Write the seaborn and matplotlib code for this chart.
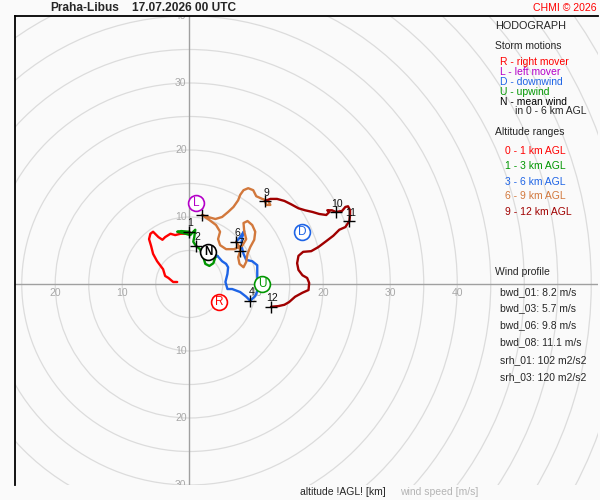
import numpy as np
import pandas as pd
import matplotlib
matplotlib.use('Agg')
import matplotlib.pyplot as plt
import seaborn as sns

# hodograph trace (u, v in m/s) split by altitude range
layers = ['0 - 1 km AGL', '1 - 3 km AGL', '3 - 6 km AGL', '6 - 9 km AGL', '9 - 12 km AGL']
layer_colors = ['#ff0000', '#009600', '#1e64e6', '#d2783c', '#a00000']

u_01 = [-1.8, -2.4, -3.1, -3.6, -3.9, -4.8, -5.4, -5.7, -6.0, -5.8, -5.4, -4.6, -4.0, -3.6, -2.8, -2.1, -1.3, -0.4, 0.0]
v_01 = [0.3, 0.3, 0.9, 1.2, 2.2, 3.4, 4.5, 5.7, 6.7, 7.5, 7.8, 7.0, 6.6, 7.0, 7.5, 7.3, 7.5, 7.5, 7.8]

u_13 = [0.0, -1.2, -1.8, -0.9, 0.15, 0.6, 0.9, 0.75, 0.6, 1.0, 1.6, 2.1, 2.4, 3.0, 3.6, 3.9, 4.2]
v_13 = [7.8, 7.9, 7.8, 7.6, 7.3, 7.8, 8.1, 7.0, 6.3, 5.7, 5.2, 4.0, 3.0, 2.7, 3.1, 4.0, 4.2]

u_36 = [4.2, 4.9, 5.5, 5.8, 5.7, 5.4, 5.7, 6.4, 7.6, 8.5, 9.1, 9.85, 10.3, 10.15, 10.15, 9.4, 8.5, 8.1, 7.8, 7.9, 8.2, 7.6, 7.0]
v_36 = [4.2, 3.4, 3.0, 2.5, 1.5, 0.3, -0.75, -0.75, -1.2, -1.9, -2.5, -1.8, -0.75, 1.0, 2.8, 3.4, 3.6, 4.5, 5.7, 7.0, 7.9, 7.0, 6.3]

u_69 = [7.0, 7.5, 7.6, 7.3, 7.5, 8.1, 8.5, 8.7, 9.1, 9.7, 9.85, 9.4, 8.7, 8.1, 8.2, 8.5, 7.9, 6.7, 5.5, 4.6,
        4.3, 4.6, 4.0, 3.0, 1.9, 2.8, 3.9, 4.9, 5.8, 6.6, 7.3, 7.6, 8.1, 8.8, 9.55, 10.0, 10.9, 11.8, 12.1, 11.5, 11.3]
v_69 = [6.3, 5.5, 4.9, 4.0, 3.0, 2.5, 3.3, 4.5, 5.5, 6.6, 7.8, 8.8, 9.4, 9.1, 7.9, 6.7, 5.7, 5.2, 5.2, 5.8,
        6.7, 7.8, 8.8, 9.55, 10.3, 10.0, 9.7, 10.0, 10.75, 11.5, 12.5, 13.3, 14.0, 14.3, 14.0, 13.1, 12.7, 12.4, 11.8, 11.8, 12.4]

u_912 = [11.3, 12.1, 13.1, 14.2, 15.2, 16.3, 17.3, 18.4, 19.4, 20.45, 20.9, 20.6, 21.3, 21.9, 22.8, 23.3, 23.7, 24.0, 24.0,
         23.9, 23.3, 22.4, 21.5, 20.45, 19.25, 18.2, 17.0, 16.3, 16.1, 16.3, 16.9, 17.6, 17.9, 17.8, 16.9, 15.8, 14.9, 14.2, 13.3, 12.2]
v_912 = [12.4, 12.7, 12.7, 12.4, 11.9, 11.3, 11.0, 10.75, 10.45, 10.3, 10.75, 11.0, 11.0, 10.75, 10.9, 11.5, 11.6, 11.0, 10.3,
         9.4, 8.5, 8.1, 7.2, 6.4, 5.5, 4.9, 4.8, 4.2, 3.1, 2.1, 1.3, 0.9, 0.15, -0.9, -1.3, -1.9, -2.7, -3.1, -3.3, -3.4]

# km height marks
hgt_u = [0.0, 1.0, 9.1, 7.0, 7.6, 1.9, 11.3, 21.9, 23.9, 12.2]
hgt_v = [7.8, 5.7, -2.5, 6.3, 4.9, 10.3, 12.4, 10.7, 9.4, -3.4]
hgt_lbl = ['1', '2', '4', '6', '7', '', '9', '10', '11', '12']

# storm motions
storm_lbl = ['R', 'L', 'D', 'U', 'N']
storm_u = [4.5, 1.0, 16.9, 10.9, 2.8]
storm_v = [-2.7, 12.1, 7.8, 0.0, 4.8]
storm_colors = ['#ff0000', '#b400c8', '#1e64e6', '#009600', '#000000']
storm_text = ['R - right mover', 'L - left mover', 'D - downwind', 'U - upwind', 'N - mean wind']

profile_text = ['bwd_01: 8.2 m/s', 'bwd_03: 5.7 m/s', 'bwd_06: 9.8 m/s', 'bwd_08: 11.1 m/s',
                'srh_01: 102 m2/s2', 'srh_03: 120 m2/s2']

rings = list(range(5, 80, 5))
x_labels = [-20, -10, 10, 20, 30, 40]
y_labels = [-30, -20, -10, 10, 20, 30, 40]

sns.set_theme(style='white')
plt.rcParams['font.family'] = ['Liberation Sans', 'DejaVu Sans']

bg = '#fafafa'
fig = plt.figure(figsize=(6, 5), dpi=100, facecolor=bg)
ax = fig.add_axes([15 / 600, 15 / 500, 583 / 600, 469 / 500])
ax.set_facecolor(bg)

frames = []
for name, uu, vv in zip(layers, [u_01, u_13, u_36, u_69, u_912], [v_01, v_13, v_36, v_69, v_912]):
    frames.append(pd.DataFrame({'u': uu, 'v': vv, 'layer': name}))
df = pd.concat(frames, ignore_index=True)

# range rings and axes
for r in rings:
    ax.add_patch(plt.Circle((0, 0), r, fill=False, color='#dcdcdc', lw=0.9, zorder=0))
ax.axhline(0, color='#a0a0a0', lw=1.0, zorder=1)
ax.axvline(0, color='#a0a0a0', lw=1.0, zorder=1)
for r in x_labels:
    ax.text(r, -0.6, str(abs(r)), ha='center', va='top', color='#a8a8a8', fontsize=7.5, zorder=1, clip_on=True)
for r in y_labels:
    ax.text(-0.4, r, str(abs(r)), ha='right', va='center', color='#a8a8a8', fontsize=7.5, zorder=1, clip_on=True)

sns.lineplot(data=df, x='u', y='v', hue='layer', palette=dict(zip(layers, layer_colors)),
             sort=False, estimator=None, lw=1.7, legend=False, ax=ax, zorder=3)

sns.scatterplot(x=hgt_u, y=hgt_v, marker='+', s=80, color='black', linewidth=1.0, ax=ax, zorder=4)
for x, y, t in zip(hgt_u, hgt_v, hgt_lbl):
    ax.annotate(t, (x, y), xytext=(1, 6), textcoords='offset points', ha='center', va='center',
                fontsize=7.5, color='#111111', zorder=5)

for x, y, t, c in zip(storm_u, storm_v, storm_lbl, storm_colors):
    ax.scatter([x], [y], s=130, marker='o', facecolor='white', edgecolor=c, linewidth=1.2, zorder=6)
    ax.text(x, y, t, ha='center', va='center', color=c, fontsize=8.5,
            fontweight='bold' if t == 'N' else 'normal', zorder=7)

ax.set_xlim(-26, 61)
ax.set_ylim(-30, 40)
ax.set_aspect('equal', adjustable='box')
ax.set_xticks([])
ax.set_yticks([])
ax.set_xlabel('')
ax.set_ylabel('')
for side in ['right', 'bottom']:
    ax.spines[side].set_visible(False)
for side in ['top', 'left']:
    ax.spines[side].set_color('black')
    ax.spines[side].set_linewidth(1.3)


def ftext(x, y, s, **kw):
    kw.setdefault('fontsize', 7.5)
    kw.setdefault('va', 'center')
    fig.text(x / 600, 1 - y / 500, s, **kw)


# header
ftext(50, 8, 'Praha-Libus', fontsize=8.6, fontweight='bold')
ftext(132, 8, '17.07.2026 00 UTC', fontsize=8.6, fontweight='bold')
ftext(597, 8, 'CHMI \u00a9 2026', ha='right', color='#ff0000', fontsize=7.6)

# right side legend
ftext(495, 26, 'HODOGRAPH', fontsize=7.8)
ftext(495, 46, 'Storm motions')
for i, (t, c) in enumerate(zip(storm_text, storm_colors)):
    ftext(500, 62 + 10 * i, t, color=c)
ftext(515, 111, 'in 0 - 6 km AGL')
ftext(495, 132, 'Altitude ranges')
for t, c, y in zip(layers, layer_colors, [151, 166, 182, 196, 212]):
    ftext(505, y, t, color=c)

ftext(495, 272, 'Wind profile')
for t, y in zip(profile_text, [292, 308, 325, 342, 360, 377]):
    ftext(500, y, t)

# bottom
ftext(300, 492, 'altitude !AGL! [km]')
ftext(400, 492, 'wind speed [m/s]', color='#b4b4b4')

fig.savefig('out.png', dpi=100, facecolor=bg)
